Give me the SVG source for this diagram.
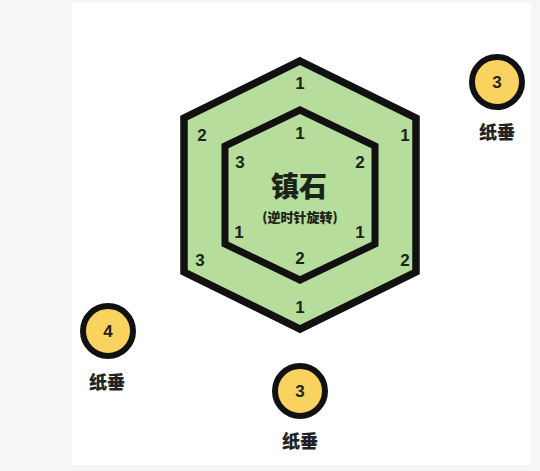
<svg xmlns="http://www.w3.org/2000/svg" width="540" height="471" viewBox="0 0 540 471">
<style>
.hex{fill:#b6dd9b;stroke:#111;stroke-width:7.5;stroke-linejoin:miter}
.hexin{fill:#b6dd9b;stroke:#111;stroke-width:7;stroke-linejoin:miter}
.num{font-family:"Liberation Sans","Noto Sans CJK SC",sans-serif;font-weight:bold;font-size:17px;fill:#1a2418;text-anchor:middle;dominant-baseline:central}
.w{fill:#f9d25f;stroke:#111;stroke-width:6}
.wn{font-family:"Liberation Sans","Noto Sans CJK SC",sans-serif;font-weight:bold;font-size:17px;fill:#222;text-anchor:middle;dominant-baseline:central}
.lab{font-family:"Noto Sans CJK SC",sans-serif;font-weight:900;font-size:18px;fill:#222;text-anchor:middle;dominant-baseline:central}
</style>
<rect x="0" y="0" width="540" height="471" fill="#f6f6f6"/>
<rect x="72" y="3" width="459" height="462" fill="#ffffff"/>
<g id="stone">
<polygon class="hex" points="300,61 416,118 416,272 300,329 184,272 184,118"/>
<polygon class="hexin" points="300,110 375,146 375,244 300,280 225,244 225,146"/>
<text class="num" x="300" y="83">1</text>
<text class="num" x="202" y="135">2</text>
<text class="num" x="405" y="135">1</text>
<text class="num" x="200" y="260">3</text>
<text class="num" x="405" y="260">2</text>
<text class="num" x="300" y="307">1</text>
<text class="num" x="300" y="133">1</text>
<text class="num" x="240" y="162">3</text>
<text class="num" x="360" y="162">2</text>
<text class="num" x="239" y="232">1</text>
<text class="num" x="360" y="232">1</text>
<text class="num" x="300" y="258">2</text>
<text x="299" y="185" font-family="Noto Sans CJK SC,sans-serif" font-weight="900" font-size="28" fill="#1a2418" text-anchor="middle" dominant-baseline="central">镇石</text>
<text x="300" y="216" font-family="Noto Sans CJK SC,sans-serif" font-weight="900" font-size="13" fill="#1a2418" text-anchor="middle" dominant-baseline="central">(逆时针旋转)</text>
</g>
<g id="weight-tr">
<circle class="w" cx="497" cy="82" r="25"/>
<text class="wn" x="497" y="82">3</text>
<text class="lab" x="497" y="131">纸垂</text>
</g>
<g id="weight-l">
<circle class="w" cx="108" cy="331" r="25"/>
<text class="wn" x="108" y="331">4</text>
<text class="lab" x="107" y="381">纸垂</text>
</g>
<g id="weight-b">
<circle class="w" cx="300" cy="391" r="25"/>
<text class="wn" x="300" y="391">3</text>
<text class="lab" x="300" y="440">纸垂</text>
</g>
<g id="connectors"></g>
</svg>
